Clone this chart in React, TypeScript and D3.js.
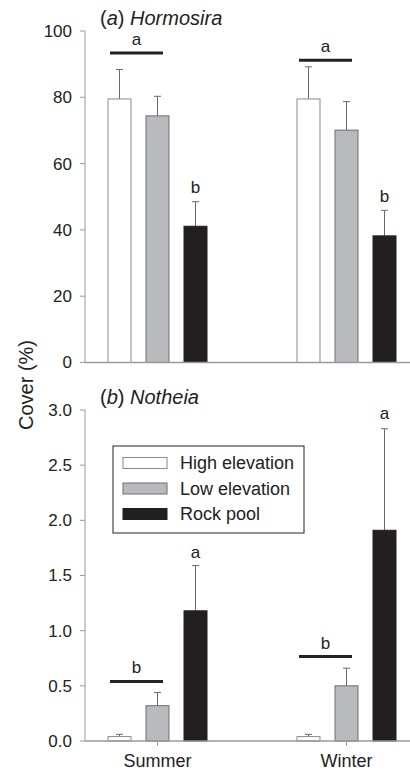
import { useEffect } from 'react';
import * as d3 from 'd3';

const seasons = ['Summer', 'Winter'];
const habitats = ['High elevation', 'Low elevation', 'Rock pool'];
const habitatFill = ['#ffffff', '#b9babd', '#231f20'];
const habitatStroke = ['#8a8a8a', '#6d6e70', '#231f20'];

// (a) Hormosira, cover %
const hormosiraMean = [[79.5, 74.4, 41.1], [79.5, 70.1, 38.2]];
const hormosiraSE = [[8.9, 5.9, 7.4], [9.7, 8.6, 7.7]];
const hormosiraTicks = [0, 20, 40, 60, 80, 100];
// grouped letters: [season, value of bar line, letter]
const hormosiraGroupLine = [93.4, 91.2];
const hormosiraGroupLetter = ['a', 'a'];
const hormosiraPoolLetter = ['b', 'b'];

// (b) Notheia, cover %
const notheiaMean = [[0.04, 0.32, 1.18], [0.04, 0.5, 1.91]];
const notheiaSE = [[0.02, 0.12, 0.41], [0.02, 0.16, 0.92]];
const notheiaTicks = [0, 0.5, 1.0, 1.5, 2.0, 2.5, 3.0];
const notheiaGroupLine = [0.54, 0.765];
const notheiaGroupLetter = ['b', 'b'];
const notheiaPoolLetter = ['a', 'a'];

const W = 410;
const H = 771;
const axisX = 85;
const font = 'Liberation Sans, Arial, Helvetica, sans-serif';
const axisColor = '#9a9a9a';

const xGroup = d3.scalePoint<string>().domain(seasons).range([157.5, 346.5]);
const xInner = d3.scaleBand<string>().domain(habitats).range([-49.5, 49.5]).paddingInner(0.395).paddingOuter(0);

interface PanelProps {
  title: string;
  italic: string;
  top: number;
  bottom: number;
  max: number;
  ticks: number[];
  fmt: (v: number) => string;
  means: number[][];
  ses: number[][];
  groupLine: number[];
  groupLetter: string[];
  poolLetter: string[];
  poolGap: number[];
  xTicks: boolean;
}

const Panel = (p: PanelProps) => {
  const y = d3.scaleLinear().domain([0, p.max]).range([p.bottom, p.top]);
  const bw = xInner.bandwidth();
  return (
    <g>
      {/* y axis */}
      <line x1={axisX} x2={axisX} y1={y(p.max)} y2={y(0)} stroke={axisColor} strokeWidth={1} />
      {p.ticks.map(t => (
        <g key={t}>
          <line x1={axisX - 5} x2={axisX} y1={y(t)} y2={y(t)} stroke={axisColor} />
          <text x={72} y={y(t)} dy="0.35em" textAnchor="end" fontSize={17} fill="#222" fontFamily={font}>
            {p.fmt(t)}
          </text>
        </g>
      ))}
      {/* bars */}
      {seasons.map((s, si) => (
        <g key={s}>
          {habitats.map((h, hi) => {
            const x0 = (xGroup(s) as number) + (xInner(h) as number);
            const v = p.means[si][hi];
            const e = v + p.ses[si][hi];
            const cx = x0 + bw / 2;
            return (
              <g key={h}>
                <line x1={cx} x2={cx} y1={y(v)} y2={y(e)} stroke="#6a6a6a" strokeWidth={1} />
                <line x1={cx - 3.5} x2={cx + 3.5} y1={y(e)} y2={y(e)} stroke="#6a6a6a" strokeWidth={1} />
                <rect x={x0} y={y(v)} width={bw} height={y(0) - y(v)}
                  fill={habitatFill[hi]} stroke={habitatStroke[hi]} strokeWidth={1} />
              </g>
            );
          })}
          {/* significance line over high + low */}
          {(() => {
            const xa = (xGroup(s) as number) + (xInner(habitats[0]) as number) + 2;
            const xb = (xGroup(s) as number) + (xInner(habitats[1]) as number) + bw - 6;
            const ly = y(p.groupLine[si]);
            return (
              <g>
                <line x1={xa} x2={xb} y1={ly} y2={ly} stroke="#222" strokeWidth={3} />
                <text x={(xa + xb) / 2} y={ly - 8} textAnchor="middle" fontSize={17} fill="#222" fontFamily={font}>
                  {p.groupLetter[si]}
                </text>
              </g>
            );
          })()}
          {(() => {
            const cx = (xGroup(s) as number) + (xInner(habitats[2]) as number) + bw / 2;
            const e = p.means[si][2] + p.ses[si][2];
            return (
              <text x={cx} y={y(e) - p.poolGap[si]} textAnchor="middle" fontSize={17} fill="#222" fontFamily={font}>
                {p.poolLetter[si]}
              </text>
            );
          })()}
        </g>
      ))}
      {/* x axis */}
      <line x1={axisX} x2={W} y1={y(0)} y2={y(0)} stroke={axisColor} strokeWidth={1.5} />
      {p.xTicks && seasons.map(s => (
        <g key={s}>
          <line x1={xGroup(s)} x2={xGroup(s)} y1={y(0)} y2={y(0) + 5} stroke={axisColor} />
          <text x={xGroup(s)} y={767} textAnchor="middle" fontSize={18} fill="#222" fontFamily={font}>{s}</text>
        </g>
      ))}
      <text x={100} y={p.top - 6} fontSize={20} fill="#222" fontFamily={font}>
        ({<tspan fontStyle="italic">{p.title}</tspan>}) <tspan fontStyle="italic">{p.italic}</tspan>
      </text>
    </g>
  );
};

export default function App() {
  useEffect(() => {
    document.body.style.margin = '0';
  }, []);

  const legendRows = habitats.map((h, i) => ({ h, i }));

  return (
    <svg width={W} height={H} viewBox={`0 0 ${W} ${H}`} style={{ display: 'block', background: '#fff' }}>
      <Panel title="a" italic="Hormosira" top={31} bottom={362.5} max={100} ticks={hormosiraTicks}
        fmt={d3.format('d')} means={hormosiraMean} ses={hormosiraSE}
        groupLine={hormosiraGroupLine} groupLetter={hormosiraGroupLetter}
        poolLetter={hormosiraPoolLetter} poolGap={[9, 8]} xTicks={false} />
      <Panel title="b" italic="Notheia" top={410} bottom={741} max={3} ticks={notheiaTicks}
        fmt={d3.format('.1f')} means={notheiaMean} ses={notheiaSE}
        groupLine={notheiaGroupLine} groupLetter={notheiaGroupLetter}
        poolLetter={notheiaPoolLetter} poolGap={[8, 10]} xTicks={true} />

      {/* legend */}
      <g>
        <rect x={113} y={446} width={191} height={87} fill="#fff" stroke="#222" strokeWidth={1} />
        {legendRows.map(({ h, i }) => (
          <g key={h} transform={`translate(123, ${463 + i * 25.5})`}>
            <rect x={0} y={-5.5} width={44} height={11} fill={habitatFill[i]} stroke={habitatStroke[i]} strokeWidth={1} />
            <text x={57} y={0} dy="0.35em" fontSize={18} fill="#222" fontFamily={font}>{h}</text>
          </g>
        ))}
      </g>

      {/* y axis label */}
      <text transform="translate(33, 385) rotate(-90)" textAnchor="middle" fontSize={20} fill="#222" fontFamily={font}>
        Cover (%)
      </text>
    </svg>
  );
}
